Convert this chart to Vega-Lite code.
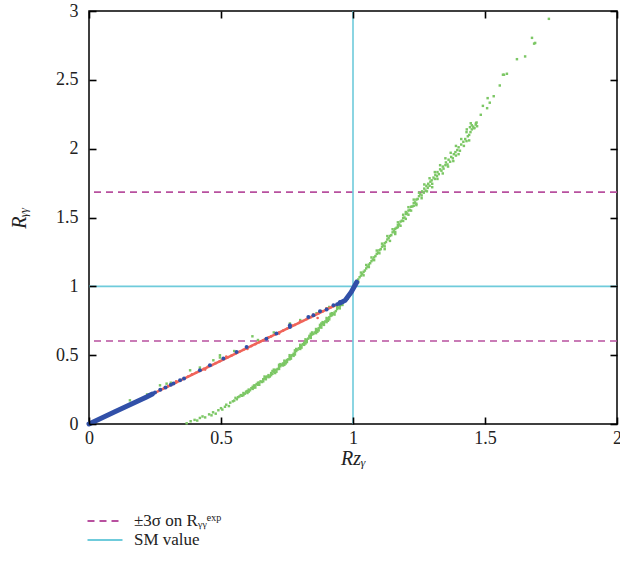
{
  "$schema": "https://vega.github.io/schema/vega-lite/v6.json",
  "width": 528,
  "height": 413,
  "autosize": "none",
  "padding": {"left": 89, "top": 11, "right": 3, "bottom": 137},
  "background": "#ffffff",
  "datasets": {
    "hrules": [
      {"y": 0.603, "label": "±3σ on Rᵧᵧᵉˣᵖ"},
      {"y": 1.684, "label": "±3σ on Rᵧᵧᵉˣᵖ"},
      {"y": 1.0, "label": "SM value"}
    ],
    "vrules": [
      {"x": 1.0, "label": "SM value"}
    ],
    "curve": [
      {"seg": "blue1", "x": 0.0, "y": 0.0},
      {"seg": "blue1", "x": 0.1, "y": 0.09},
      {"seg": "blue1", "x": 0.218, "y": 0.196},
      {"seg": "blue1", "x": 0.24, "y": 0.218},
      {"seg": "red", "x": 0.22, "y": 0.198},
      {"seg": "red", "x": 0.6, "y": 0.553},
      {"seg": "red", "x": 0.96, "y": 0.887},
      {"seg": "blue2", "x": 0.95, "y": 0.878},
      {"seg": "blue2", "x": 0.97, "y": 0.898},
      {"seg": "blue2", "x": 0.993, "y": 0.958},
      {"seg": "blue2", "x": 1.014, "y": 1.03}
    ],
    "green": [
      {"x": 0.37, "y": 0.005}, {"x": 0.385, "y": 0.02}, {"x": 0.4, "y": 0.03}, {"x": 0.41, "y": 0.025},
      {"x": 0.42, "y": 0.044}, {"x": 0.43, "y": 0.055}, {"x": 0.44, "y": 0.048}, {"x": 0.455, "y": 0.07},
      {"x": 0.464, "y": 0.063}, {"x": 0.47, "y": 0.085}, {"x": 0.48, "y": 0.075}, {"x": 0.49, "y": 0.1},
      {"x": 0.5, "y": 0.115}, {"x": 0.505, "y": 0.105}, {"x": 0.515, "y": 0.125}, {"x": 0.52, "y": 0.14},
      {"x": 0.53, "y": 0.13}, {"x": 0.535, "y": 0.155}, {"x": 0.545, "y": 0.165}, {"x": 0.55, "y": 0.17},
      {"x": 0.555, "y": 0.19}, {"x": 0.56, "y": 0.18},
      {"x": 0.565, "y": 0.195}, {"x": 0.57, "y": 0.2}, {"x": 0.575, "y": 0.21}, {"x": 0.58, "y": 0.205},
      {"x": 0.585, "y": 0.225}, {"x": 0.59, "y": 0.22}, {"x": 0.595, "y": 0.235}, {"x": 0.6, "y": 0.24},
      {"x": 0.605, "y": 0.25}, {"x": 0.61, "y": 0.245}, {"x": 0.615, "y": 0.26}, {"x": 0.62, "y": 0.27},
      {"x": 0.625, "y": 0.265}, {"x": 0.63, "y": 0.28}, {"x": 0.635, "y": 0.29}, {"x": 0.64, "y": 0.285},
      {"x": 0.645, "y": 0.3}, {"x": 0.65, "y": 0.31}, {"x": 0.655, "y": 0.305}, {"x": 0.66, "y": 0.325},
      {"x": 0.665, "y": 0.33}, {"x": 0.67, "y": 0.34}, {"x": 0.675, "y": 0.345}, {"x": 0.68, "y": 0.355},
      {"x": 0.69, "y": 0.37}, {"x": 0.695, "y": 0.365},
      {"x": 0.7, "y": 0.38}, {"x": 0.705, "y": 0.39}, {"x": 0.71, "y": 0.395}, {"x": 0.715, "y": 0.4},
      {"x": 0.72, "y": 0.415}, {"x": 0.725, "y": 0.42}, {"x": 0.73, "y": 0.43}, {"x": 0.735, "y": 0.44},
      {"x": 0.74, "y": 0.445}, {"x": 0.745, "y": 0.455}, {"x": 0.75, "y": 0.465}, {"x": 0.755, "y": 0.47},
      {"x": 0.76, "y": 0.485}, {"x": 0.765, "y": 0.49}, {"x": 0.77, "y": 0.5}, {"x": 0.775, "y": 0.51},
      {"x": 0.78, "y": 0.52}, {"x": 0.785, "y": 0.53}, {"x": 0.79, "y": 0.54}, {"x": 0.795, "y": 0.55},
      {"x": 0.8, "y": 0.56}, {"x": 0.805, "y": 0.57}, {"x": 0.81, "y": 0.58}, {"x": 0.815, "y": 0.59},
      {"x": 0.82, "y": 0.6}, {"x": 0.825, "y": 0.61}, {"x": 0.83, "y": 0.62}, {"x": 0.835, "y": 0.63},
      {"x": 0.84, "y": 0.64}, {"x": 0.845, "y": 0.65}, {"x": 0.85, "y": 0.655},
      {"x": 0.72, "y": 0.43}, {"x": 0.74, "y": 0.43}, {"x": 0.76, "y": 0.47}, {"x": 0.78, "y": 0.535},
      {"x": 0.8, "y": 0.575}, {"x": 0.82, "y": 0.585}, {"x": 0.84, "y": 0.625}, {"x": 0.67, "y": 0.325},
      {"x": 0.63, "y": 0.265}, {"x": 0.69, "y": 0.355}, {"x": 0.71, "y": 0.38}, {"x": 0.75, "y": 0.45},
      {"x": 0.6, "y": 0.225}, {"x": 0.62, "y": 0.255}, {"x": 0.64, "y": 0.3}, {"x": 0.66, "y": 0.31},
      {"x": 0.68, "y": 0.34}, {"x": 0.7, "y": 0.395}, {"x": 0.72, "y": 0.4}, {"x": 0.74, "y": 0.46},
      {"x": 0.76, "y": 0.5}, {"x": 0.78, "y": 0.505}, {"x": 0.8, "y": 0.545}, {"x": 0.82, "y": 0.615},
      {"x": 0.84, "y": 0.655}, {"x": 0.86, "y": 0.69}, {"x": 0.88, "y": 0.73}, {"x": 0.9, "y": 0.77},
      {"x": 0.92, "y": 0.805}, {"x": 0.94, "y": 0.85}, {"x": 0.96, "y": 0.865}, {"x": 0.98, "y": 0.91},
      {"x": 0.585, "y": 0.21}, {"x": 0.605, "y": 0.235}, {"x": 0.625, "y": 0.28}, {"x": 0.645, "y": 0.285},
      {"x": 0.665, "y": 0.345}, {"x": 0.685, "y": 0.345}, {"x": 0.705, "y": 0.37}, {"x": 0.725, "y": 0.435},
      {"x": 0.745, "y": 0.44}, {"x": 0.765, "y": 0.475}, {"x": 0.785, "y": 0.545}, {"x": 0.805, "y": 0.555},
      {"x": 0.825, "y": 0.595}, {"x": 0.845, "y": 0.665}, {"x": 0.865, "y": 0.67}, {"x": 0.885, "y": 0.74},
      {"x": 0.905, "y": 0.75}, {"x": 0.695, "y": 0.385}, {"x": 0.735, "y": 0.425}, {"x": 0.775, "y": 0.495},
      {"x": 0.815, "y": 0.575}, {"x": 0.835, "y": 0.64}, {"x": 0.875, "y": 0.72}, {"x": 0.915, "y": 0.8},
      {"x": 0.855, "y": 0.665}, {"x": 0.86, "y": 0.675}, {"x": 0.865, "y": 0.685}, {"x": 0.87, "y": 0.695},
      {"x": 0.875, "y": 0.705}, {"x": 0.88, "y": 0.715}, {"x": 0.885, "y": 0.725}, {"x": 0.89, "y": 0.735},
      {"x": 0.895, "y": 0.745}, {"x": 0.9, "y": 0.755}, {"x": 0.905, "y": 0.765}, {"x": 0.91, "y": 0.775},
      {"x": 0.915, "y": 0.785}, {"x": 0.92, "y": 0.79}, {"x": 0.925, "y": 0.8}, {"x": 0.93, "y": 0.81},
      {"x": 0.935, "y": 0.82}, {"x": 0.94, "y": 0.835}, {"x": 0.945, "y": 0.845}, {"x": 0.95, "y": 0.855},
      {"x": 0.955, "y": 0.865}, {"x": 0.96, "y": 0.88}, {"x": 0.965, "y": 0.89}, {"x": 0.97, "y": 0.9},
      {"x": 0.975, "y": 0.91}, {"x": 0.98, "y": 0.925}, {"x": 0.985, "y": 0.935}, {"x": 0.99, "y": 0.945},
      {"x": 0.995, "y": 0.96}, {"x": 1.0, "y": 0.975},
      {"x": 0.87, "y": 0.68}, {"x": 0.89, "y": 0.72}, {"x": 0.91, "y": 0.76}, {"x": 0.93, "y": 0.795},
      {"x": 0.95, "y": 0.84}, {"x": 0.86, "y": 0.66}, {"x": 0.88, "y": 0.7}, {"x": 0.9, "y": 0.74},
      {"x": 1.005, "y": 1.013}, {"x": 1.01, "y": 1.026}, {"x": 1.015, "y": 1.04}, {"x": 1.02, "y": 1.05},
      {"x": 1.025, "y": 1.066}, {"x": 1.03, "y": 1.078}, {"x": 1.035, "y": 1.09}, {"x": 1.04, "y": 1.105},
      {"x": 1.045, "y": 1.115}, {"x": 1.05, "y": 1.13}, {"x": 1.055, "y": 1.143}, {"x": 1.06, "y": 1.158},
      {"x": 1.065, "y": 1.168}, {"x": 1.07, "y": 1.183}, {"x": 1.075, "y": 1.195}, {"x": 1.08, "y": 1.21},
      {"x": 1.085, "y": 1.22}, {"x": 1.09, "y": 1.236}, {"x": 1.095, "y": 1.245}, {"x": 1.1, "y": 1.262},
      {"x": 1.105, "y": 1.27}, {"x": 1.11, "y": 1.288}, {"x": 1.115, "y": 1.297}, {"x": 1.12, "y": 1.313},
      {"x": 1.125, "y": 1.322}, {"x": 1.13, "y": 1.34}, {"x": 1.135, "y": 1.35}, {"x": 1.14, "y": 1.366},
      {"x": 1.145, "y": 1.372}, {"x": 1.15, "y": 1.392}, {"x": 1.155, "y": 1.4}, {"x": 1.16, "y": 1.418},
      {"x": 1.165, "y": 1.425}, {"x": 1.17, "y": 1.445}, {"x": 1.175, "y": 1.45}, {"x": 1.18, "y": 1.47},
      {"x": 1.185, "y": 1.477}, {"x": 1.19, "y": 1.497}, {"x": 1.195, "y": 1.5}, {"x": 1.2, "y": 1.525},
      {"x": 1.205, "y": 1.53}, {"x": 1.21, "y": 1.55}, {"x": 1.215, "y": 1.555}, {"x": 1.22, "y": 1.578},
      {"x": 1.225, "y": 1.58}, {"x": 1.23, "y": 1.605}, {"x": 1.235, "y": 1.61}, {"x": 1.24, "y": 1.63},
      {"x": 1.245, "y": 1.635}, {"x": 1.25, "y": 1.655},
      {"x": 1.12, "y": 1.29}, {"x": 1.16, "y": 1.395}, {"x": 1.19, "y": 1.475}, {"x": 1.21, "y": 1.52},
      {"x": 1.23, "y": 1.585}, {"x": 1.24, "y": 1.6}, {"x": 1.2, "y": 1.54}, {"x": 1.17, "y": 1.43},
      {"x": 1.02, "y": 1.03}, {"x": 1.04, "y": 1.08}, {"x": 1.06, "y": 1.14}, {"x": 1.08, "y": 1.19},
      {"x": 1.1, "y": 1.24}, {"x": 1.12, "y": 1.27}, {"x": 1.14, "y": 1.33}, {"x": 1.16, "y": 1.38},
      {"x": 1.18, "y": 1.44}, {"x": 1.2, "y": 1.49}, {"x": 1.22, "y": 1.55}, {"x": 1.24, "y": 1.59},
      {"x": 1.26, "y": 1.64}, {"x": 1.28, "y": 1.69}, {"x": 1.3, "y": 1.72}, {"x": 1.32, "y": 1.78},
      {"x": 1.34, "y": 1.82}, {"x": 1.36, "y": 1.87}, {"x": 1.38, "y": 1.91}, {"x": 1.4, "y": 1.96},
      {"x": 1.42, "y": 2.02}, {"x": 1.44, "y": 2.06},
      {"x": 1.03, "y": 1.1}, {"x": 1.05, "y": 1.155}, {"x": 1.07, "y": 1.21}, {"x": 1.09, "y": 1.26},
      {"x": 1.11, "y": 1.31}, {"x": 1.13, "y": 1.365}, {"x": 1.15, "y": 1.415}, {"x": 1.17, "y": 1.465},
      {"x": 1.19, "y": 1.52}, {"x": 1.21, "y": 1.575}, {"x": 1.23, "y": 1.63}, {"x": 1.25, "y": 1.68},
      {"x": 1.27, "y": 1.74}, {"x": 1.29, "y": 1.785}, {"x": 1.31, "y": 1.83}, {"x": 1.33, "y": 1.88},
      {"x": 1.35, "y": 1.93}, {"x": 1.37, "y": 1.97}, {"x": 1.39, "y": 2.02}, {"x": 1.41, "y": 2.07},
      {"x": 1.43, "y": 2.12}, {"x": 1.45, "y": 2.17},
      {"x": 1.255, "y": 1.67}, {"x": 1.26, "y": 1.66}, {"x": 1.262, "y": 1.69}, {"x": 1.268, "y": 1.68},
      {"x": 1.27, "y": 1.71}, {"x": 1.275, "y": 1.695}, {"x": 1.278, "y": 1.73}, {"x": 1.283, "y": 1.715},
      {"x": 1.285, "y": 1.745}, {"x": 1.29, "y": 1.73}, {"x": 1.293, "y": 1.76}, {"x": 1.298, "y": 1.77},
      {"x": 1.3, "y": 1.745}, {"x": 1.305, "y": 1.79}, {"x": 1.31, "y": 1.78}, {"x": 1.312, "y": 1.81},
      {"x": 1.318, "y": 1.8}, {"x": 1.32, "y": 1.83}, {"x": 1.325, "y": 1.815}, {"x": 1.33, "y": 1.85},
      {"x": 1.335, "y": 1.84}, {"x": 1.34, "y": 1.87}, {"x": 1.343, "y": 1.855}, {"x": 1.35, "y": 1.88},
      {"x": 1.352, "y": 1.9}, {"x": 1.358, "y": 1.885}, {"x": 1.362, "y": 1.92}, {"x": 1.368, "y": 1.905},
      {"x": 1.372, "y": 1.94}, {"x": 1.378, "y": 1.93}, {"x": 1.382, "y": 1.96}, {"x": 1.388, "y": 1.975},
      {"x": 1.39, "y": 1.95}, {"x": 1.395, "y": 1.99}, {"x": 1.4, "y": 2.01}, {"x": 1.405, "y": 1.985},
      {"x": 1.41, "y": 2.03}, {"x": 1.418, "y": 2.05}, {"x": 1.425, "y": 2.07}, {"x": 1.43, "y": 2.055},
      {"x": 1.435, "y": 2.09}, {"x": 1.44, "y": 2.1}, {"x": 1.445, "y": 2.12}, {"x": 1.45, "y": 2.14},
      {"x": 1.455, "y": 2.16}, {"x": 1.46, "y": 2.15}, {"x": 1.465, "y": 2.175}, {"x": 1.468, "y": 2.19},
      {"x": 1.431, "y": 2.14}, {"x": 1.443, "y": 2.156}, {"x": 1.458, "y": 2.149}, {"x": 1.47, "y": 2.163},
      {"x": 1.446, "y": 2.185}, {"x": 1.466, "y": 2.185}, {"x": 1.484, "y": 2.246}, {"x": 1.492, "y": 2.311},
      {"x": 1.508, "y": 2.294}, {"x": 1.518, "y": 2.334}, {"x": 1.51, "y": 2.367}, {"x": 1.533, "y": 2.381},
      {"x": 1.556, "y": 2.459}, {"x": 1.568, "y": 2.537}, {"x": 1.572, "y": 2.537}, {"x": 1.583, "y": 2.544},
      {"x": 1.621, "y": 2.65}, {"x": 1.652, "y": 2.67}, {"x": 1.678, "y": 2.805}, {"x": 1.686, "y": 2.763},
      {"x": 1.69, "y": 2.768}, {"x": 1.742, "y": 2.943},
      {"x": 0.155, "y": 0.172}, {"x": 0.22, "y": 0.215}, {"x": 0.269, "y": 0.281}, {"x": 0.294, "y": 0.293},
      {"x": 0.31, "y": 0.3}, {"x": 0.383, "y": 0.39}, {"x": 0.42, "y": 0.41}, {"x": 0.471, "y": 0.463},
      {"x": 0.496, "y": 0.499}, {"x": 0.496, "y": 0.483}, {"x": 0.55, "y": 0.53}, {"x": 0.619, "y": 0.637},
      {"x": 0.64, "y": 0.61}, {"x": 0.7, "y": 0.665}, {"x": 0.761, "y": 0.73}, {"x": 0.8, "y": 0.755},
      {"x": 0.862, "y": 0.805}, {"x": 0.88, "y": 0.82}, {"x": 0.9, "y": 0.84}, {"x": 0.91, "y": 0.85},
      {"x": 0.925, "y": 0.855}, {"x": 0.94, "y": 0.865}, {"x": 0.95, "y": 0.87}
    ],
    "red": [
      {"x": 0.3, "y": 0.275}, {"x": 0.315, "y": 0.29}, {"x": 0.33, "y": 0.302}, {"x": 0.345, "y": 0.318},
      {"x": 0.36, "y": 0.33}, {"x": 0.375, "y": 0.345}, {"x": 0.39, "y": 0.36}, {"x": 0.405, "y": 0.372},
      {"x": 0.42, "y": 0.386}, {"x": 0.435, "y": 0.4}, {"x": 0.45, "y": 0.415}, {"x": 0.465, "y": 0.427},
      {"x": 0.48, "y": 0.442}, {"x": 0.495, "y": 0.455}, {"x": 0.51, "y": 0.47}, {"x": 0.525, "y": 0.483},
      {"x": 0.54, "y": 0.497}, {"x": 0.555, "y": 0.51}, {"x": 0.57, "y": 0.525}, {"x": 0.585, "y": 0.539},
      {"x": 0.6, "y": 0.553}, {"x": 0.615, "y": 0.566}, {"x": 0.63, "y": 0.58}, {"x": 0.645, "y": 0.594},
      {"x": 0.66, "y": 0.608}, {"x": 0.675, "y": 0.622}, {"x": 0.69, "y": 0.636}, {"x": 0.705, "y": 0.65},
      {"x": 0.72, "y": 0.664}, {"x": 0.735, "y": 0.678}, {"x": 0.75, "y": 0.692}, {"x": 0.765, "y": 0.706},
      {"x": 0.78, "y": 0.72}, {"x": 0.795, "y": 0.734}, {"x": 0.81, "y": 0.748}, {"x": 0.825, "y": 0.762},
      {"x": 0.84, "y": 0.776}, {"x": 0.855, "y": 0.79}, {"x": 0.87, "y": 0.804}, {"x": 0.885, "y": 0.818},
      {"x": 0.9, "y": 0.832}, {"x": 0.915, "y": 0.846}, {"x": 0.93, "y": 0.86}, {"x": 0.945, "y": 0.873},
      {"x": 0.955, "y": 0.882},
      {"x": 0.33, "y": 0.31}, {"x": 0.44, "y": 0.395}, {"x": 0.52, "y": 0.49}, {"x": 0.6, "y": 0.545},
      {"x": 0.65, "y": 0.6}, {"x": 0.68, "y": 0.63}, {"x": 0.72, "y": 0.657}, {"x": 0.77, "y": 0.715},
      {"x": 0.8, "y": 0.745}, {"x": 0.85, "y": 0.795}, {"x": 0.866, "y": 0.77}, {"x": 0.9, "y": 0.84},
      {"x": 0.24, "y": 0.22}, {"x": 0.27, "y": 0.25}, {"x": 0.285, "y": 0.262}
    ],
    "blue": [
      {"x": 0.23, "y": 0.21}, {"x": 0.25, "y": 0.228}, {"x": 0.27, "y": 0.248}, {"x": 0.29, "y": 0.265},
      {"x": 0.31, "y": 0.285}, {"x": 0.32, "y": 0.295}, {"x": 0.345, "y": 0.318}, {"x": 0.36, "y": 0.33},
      {"x": 0.42, "y": 0.39}, {"x": 0.458, "y": 0.427}, {"x": 0.509, "y": 0.475}, {"x": 0.559, "y": 0.523},
      {"x": 0.597, "y": 0.56}, {"x": 0.672, "y": 0.62}, {"x": 0.71, "y": 0.657}, {"x": 0.761, "y": 0.717},
      {"x": 0.761, "y": 0.705}, {"x": 0.831, "y": 0.778}, {"x": 0.85, "y": 0.79}, {"x": 0.875, "y": 0.819},
      {"x": 0.9, "y": 0.831}, {"x": 0.926, "y": 0.863}, {"x": 0.951, "y": 0.887}, {"x": 0.94, "y": 0.87},
      {"x": 0.96, "y": 0.888}
    ]
  },
  "layer": [
    {
      "data": {"name": "hrules"},
      "mark": {"type": "rule", "strokeWidth": 1.6},
      "encoding": {
        "y": {"field": "y", "type": "quantitative", "scale": {"domain": [0, 3], "nice": false, "zero": false}, "axis": null},
        "color": {"field": "label", "type": "nominal",
                  "scale": {"domain": ["±3σ on Rᵧᵧᵉˣᵖ", "SM value"], "range": ["#b8509f", "#6fcbdb"]},
                  "legend": {"title": null}},
        "strokeDash": {"field": "label", "type": "nominal",
                       "scale": {"domain": ["±3σ on Rᵧᵧᵉˣᵖ", "SM value"], "range": [[7, 5], [1, 0]]},
                       "legend": {"title": null}}
      }
    },
    {
      "data": {"name": "vrules"},
      "mark": {"type": "rule", "strokeWidth": 1.6},
      "encoding": {
        "x": {"field": "x", "type": "quantitative", "scale": {"domain": [0, 2], "nice": false, "zero": false}, "axis": null},
        "color": {"field": "label", "type": "nominal",
                  "scale": {"domain": ["±3σ on Rᵧᵧᵉˣᵖ", "SM value"], "range": ["#b8509f", "#6fcbdb"]},
                  "legend": {"title": null}},
        "strokeDash": {"field": "label", "type": "nominal",
                       "scale": {"domain": ["±3σ on Rᵧᵧᵉˣᵖ", "SM value"], "range": [[7, 5], [1, 0]]},
                       "legend": {"title": null}}
      }
    },
    {
      "data": {"name": "green"},
      "mark": {"type": "square", "filled": true, "size": 6, "color": "#7cc765", "opacity": 1},
      "encoding": {
        "x": {"field": "x", "type": "quantitative", "scale": {"domain": [0, 2], "nice": false, "zero": false}, "axis": null},
        "y": {"field": "y", "type": "quantitative", "scale": {"domain": [0, 3], "nice": false, "zero": false}, "axis": null}
      }
    },
    {
      "data": {"name": "curve"},
      "transform": [{"filter": "datum.seg === 'red'"}],
      "mark": {"type": "line", "color": "#f0645a", "strokeWidth": 2.5},
      "encoding": {
        "x": {"field": "x", "type": "quantitative", "scale": {"domain": [0, 2], "nice": false, "zero": false}, "axis": null},
        "y": {"field": "y", "type": "quantitative", "scale": {"domain": [0, 3], "nice": false, "zero": false}, "axis": null}
      }
    },
    {
      "data": {"name": "red"},
      "mark": {"type": "circle", "size": 7, "color": "#f0645a", "opacity": 1},
      "encoding": {
        "x": {"field": "x", "type": "quantitative", "scale": {"domain": [0, 2], "nice": false, "zero": false}, "axis": null},
        "y": {"field": "y", "type": "quantitative", "scale": {"domain": [0, 3], "nice": false, "zero": false}, "axis": null}
      }
    },
    {
      "data": {"name": "curve"},
      "transform": [{"filter": "datum.seg !== 'red'"}],
      "mark": {"type": "line", "color": "#3150a8", "strokeWidth": 5, "strokeCap": "round"},
      "encoding": {
        "x": {"field": "x", "type": "quantitative", "scale": {"domain": [0, 2], "nice": false, "zero": false},
              "axis": {"orient": "bottom", "values": [0, 0.5, 1, 1.5, 2], "format": "~g", "labelPadding": 12, "title": "Rᴢᵧ", "titlePadding": 1, "labelFlush": false,
                       "ticks": true, "tickSize": -7, "tickColor": "#000000", "tickWidth": 1.6, "zindex": 1}},
        "y": {"field": "y", "type": "quantitative", "scale": {"domain": [0, 3], "nice": false, "zero": false},
              "axis": {"orient": "left", "values": [0, 0.5, 1, 1.5, 2, 2.5, 3], "format": "~g", "labelPadding": 18, "title": "Rᵧᵧ", "titlePadding": 26, "labelFlush": false,
                       "ticks": true, "tickSize": -7, "tickColor": "#000000", "tickWidth": 1.6, "zindex": 1}},
        "detail": {"field": "seg", "type": "nominal"}
      }
    },
    {
      "data": {"name": "blue"},
      "mark": {"type": "circle", "size": 16, "color": "#3150a8", "opacity": 1},
      "encoding": {
        "x": {"field": "x", "type": "quantitative", "scale": {"domain": [0, 2], "nice": false, "zero": false},
              "axis": {"orient": "top", "values": [0, 0.5, 1, 1.5, 2], "labels": false, "title": null,
                       "ticks": true, "tickSize": -7, "tickColor": "#000000", "tickWidth": 1.6, "zindex": 1}},
        "y": {"field": "y", "type": "quantitative", "scale": {"domain": [0, 3], "nice": false, "zero": false},
              "axis": {"orient": "right", "values": [0, 0.5, 1, 1.5, 2, 2.5, 3], "labels": false, "title": null,
                       "ticks": true, "tickSize": -7, "tickColor": "#000000", "tickWidth": 1.6, "zindex": 1}}
      }
    }
  ],
  "resolve": {"axis": {"x": "independent", "y": "independent"}},
  "config": {
    "view": {"stroke": "#000000", "strokeWidth": 1.5},
    "axis": {
      "domain": false,
      "grid": false,
      "labelFont": "Liberation Serif",
      "labelFontSize": 18,
      "labelColor": "#222222",
      "titleFont": "Liberation Serif",
      "titleFontStyle": "italic",
      "titleFontWeight": "normal",
      "titleFontSize": 20,
      "titleColor": "#222222"
    },
    "legend": {
      "orient": "none",
      "legendX": 5,
      "legendY": 499,
      "symbolType": "M-1.75,0H1.75",
      "symbolSize": 400,
      "symbolStrokeWidth": 2,
      "symbolFillColor": "transparent",
      "labelFont": "Liberation Serif",
      "labelFontSize": 17,
      "labelColor": "#222222",
      "rowPadding": 0,
      "labelOffset": 18
    }
  }
}
